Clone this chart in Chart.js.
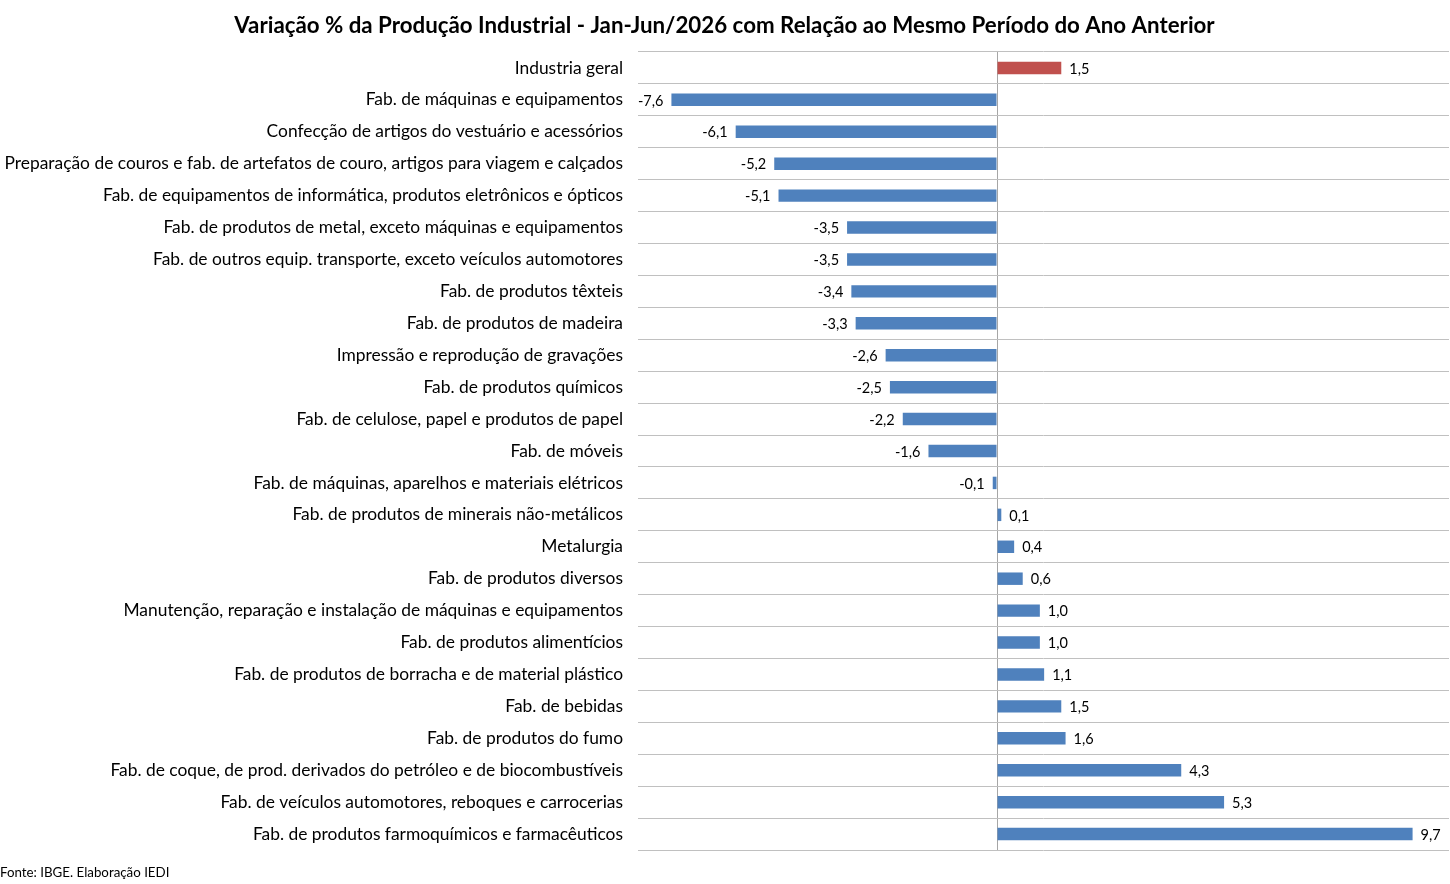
<!DOCTYPE html>
<html>
<head>
<meta charset="utf-8">
<script src="https://cdn.jsdelivr.net/npm/chart.js@4"></script>
<style>
html,body{margin:0;padding:0;background:#fff;}
#wrap{width:1450px;height:884px;}
</style>
</head>
<body>
<div id="wrap"><canvas id="c" width="1450" height="884"></canvas></div>
<script>
const categories = [
  "Industria geral",
  "Fab. de máquinas e equipamentos",
  "Confecção de artigos do vestuário e acessórios",
  "Preparação de couros e fab. de artefatos de couro, artigos para viagem e calçados",
  "Fab. de equipamentos de informática, produtos eletrônicos e ópticos",
  "Fab. de produtos de metal, exceto máquinas e equipamentos",
  "Fab. de outros equip. transporte, exceto veículos automotores",
  "Fab. de produtos têxteis",
  "Fab. de produtos de madeira",
  "Impressão e reprodução de gravações",
  "Fab. de produtos químicos",
  "Fab. de celulose, papel e produtos de papel",
  "Fab. de móveis",
  "Fab. de máquinas, aparelhos e materiais elétricos",
  "Fab. de produtos de minerais não-metálicos",
  "Metalurgia",
  "Fab. de produtos diversos",
  "Manutenção, reparação e instalação de máquinas e equipamentos",
  "Fab. de produtos alimentícios",
  "Fab. de produtos de borracha e de material plástico",
  "Fab. de bebidas",
  "Fab. de produtos do fumo",
  "Fab. de coque, de prod. derivados do petróleo e de biocombustíveis",
  "Fab. de veículos automotores, reboques e carrocerias",
  "Fab. de produtos farmoquímicos e farmacêuticos"
];
const values = [1.5, -7.6, -6.1, -5.2, -5.1, -3.5, -3.5, -3.4, -3.3, -2.6, -2.5, -2.2, -1.6, -0.1, 0.1, 0.4, 0.6, 1.0, 1.0, 1.1, 1.5, 1.6, 4.3, 5.3, 9.7];
const highlightIndex = 0;

const FONT = "Lato, 'Open Sans', sans-serif";
const barColors = values.map((v, i) => i === highlightIndex ? '#C0504D' : '#4F81BD');

const valueLabels = {
  id: 'valueLabels',
  afterDatasetsDraw(chart) {
    const ctx = chart.ctx;
    const meta = chart.getDatasetMeta(0);
    ctx.save();
    ctx.font = "14.5px " + FONT;
    ctx.fillStyle = '#000';
    ctx.textBaseline = 'middle';
    meta.data.forEach((bar, i) => {
      const v = values[i];
      const txt = v.toFixed(1).replace('.', ',');
      if (v >= 0) {
        ctx.textAlign = 'left';
        ctx.fillText(txt, bar.x + 8, bar.y + 1);
      } else {
        ctx.textAlign = 'right';
        ctx.fillText(txt, bar.x - 8, bar.y + 1);
      }
    });
    ctx.restore();
  }
};

new Chart(document.getElementById('c'), {
  type: 'bar',
  data: {
    labels: categories,
    datasets: [{
      data: values,
      backgroundColor: barColors,
      borderWidth: 0,
      categoryPercentage: 1,
      barPercentage: 0.39
    }]
  },
  options: {
    indexAxis: 'y',
    responsive: false,
    animation: false,
    devicePixelRatio: 1,
    layout: { padding: { left: 0, right: 1, top: 0, bottom: 0 } },
    plugins: {
      legend: { display: false },
      tooltip: { enabled: false },
      title: {
        display: true,
        text: 'Variação % da Produção Industrial - Jan-Jun/2026 com Relação ao Mesmo Período do Ano Anterior',
        color: '#000',
        font: { family: FONT, size: 22.3, weight: 'bold', lineHeight: 1.2 },
        padding: { top: 12, bottom: 13.2 }
      },
      subtitle: {
        display: true,
        position: 'bottom',
        align: 'start',
        text: 'Fonte: IBGE. Elaboração IEDI',
        color: '#000',
        font: { family: FONT, size: 13.3, lineHeight: 1.2 },
        padding: { top: 15, bottom: 3 }
      }
    },
    scales: {
      x: {
        min: -8.38,
        max: 10.55,
        afterBuildTicks(axis) { axis.ticks = [{ value: 0 }]; },
        afterFit(axis) { axis.height = 0; },
        ticks: { display: false },
        border: { display: false },
        grid: { color: '#a6a6a6', lineWidth: 1, drawTicks: false }
      },
      y: {
        afterFit(axis) { axis.width = 638; },
        border: { display: false },
        grid: { color: '#c0c0c0', lineWidth: 1, drawTicks: false, offset: true },
        ticks: {
          color: '#000',
          padding: 15,
          autoSkip: false,
          font: { family: FONT, size: 17.4 }
        }
      }
    }
  },
  plugins: [valueLabels]
});
</script>
</body>
</html>
